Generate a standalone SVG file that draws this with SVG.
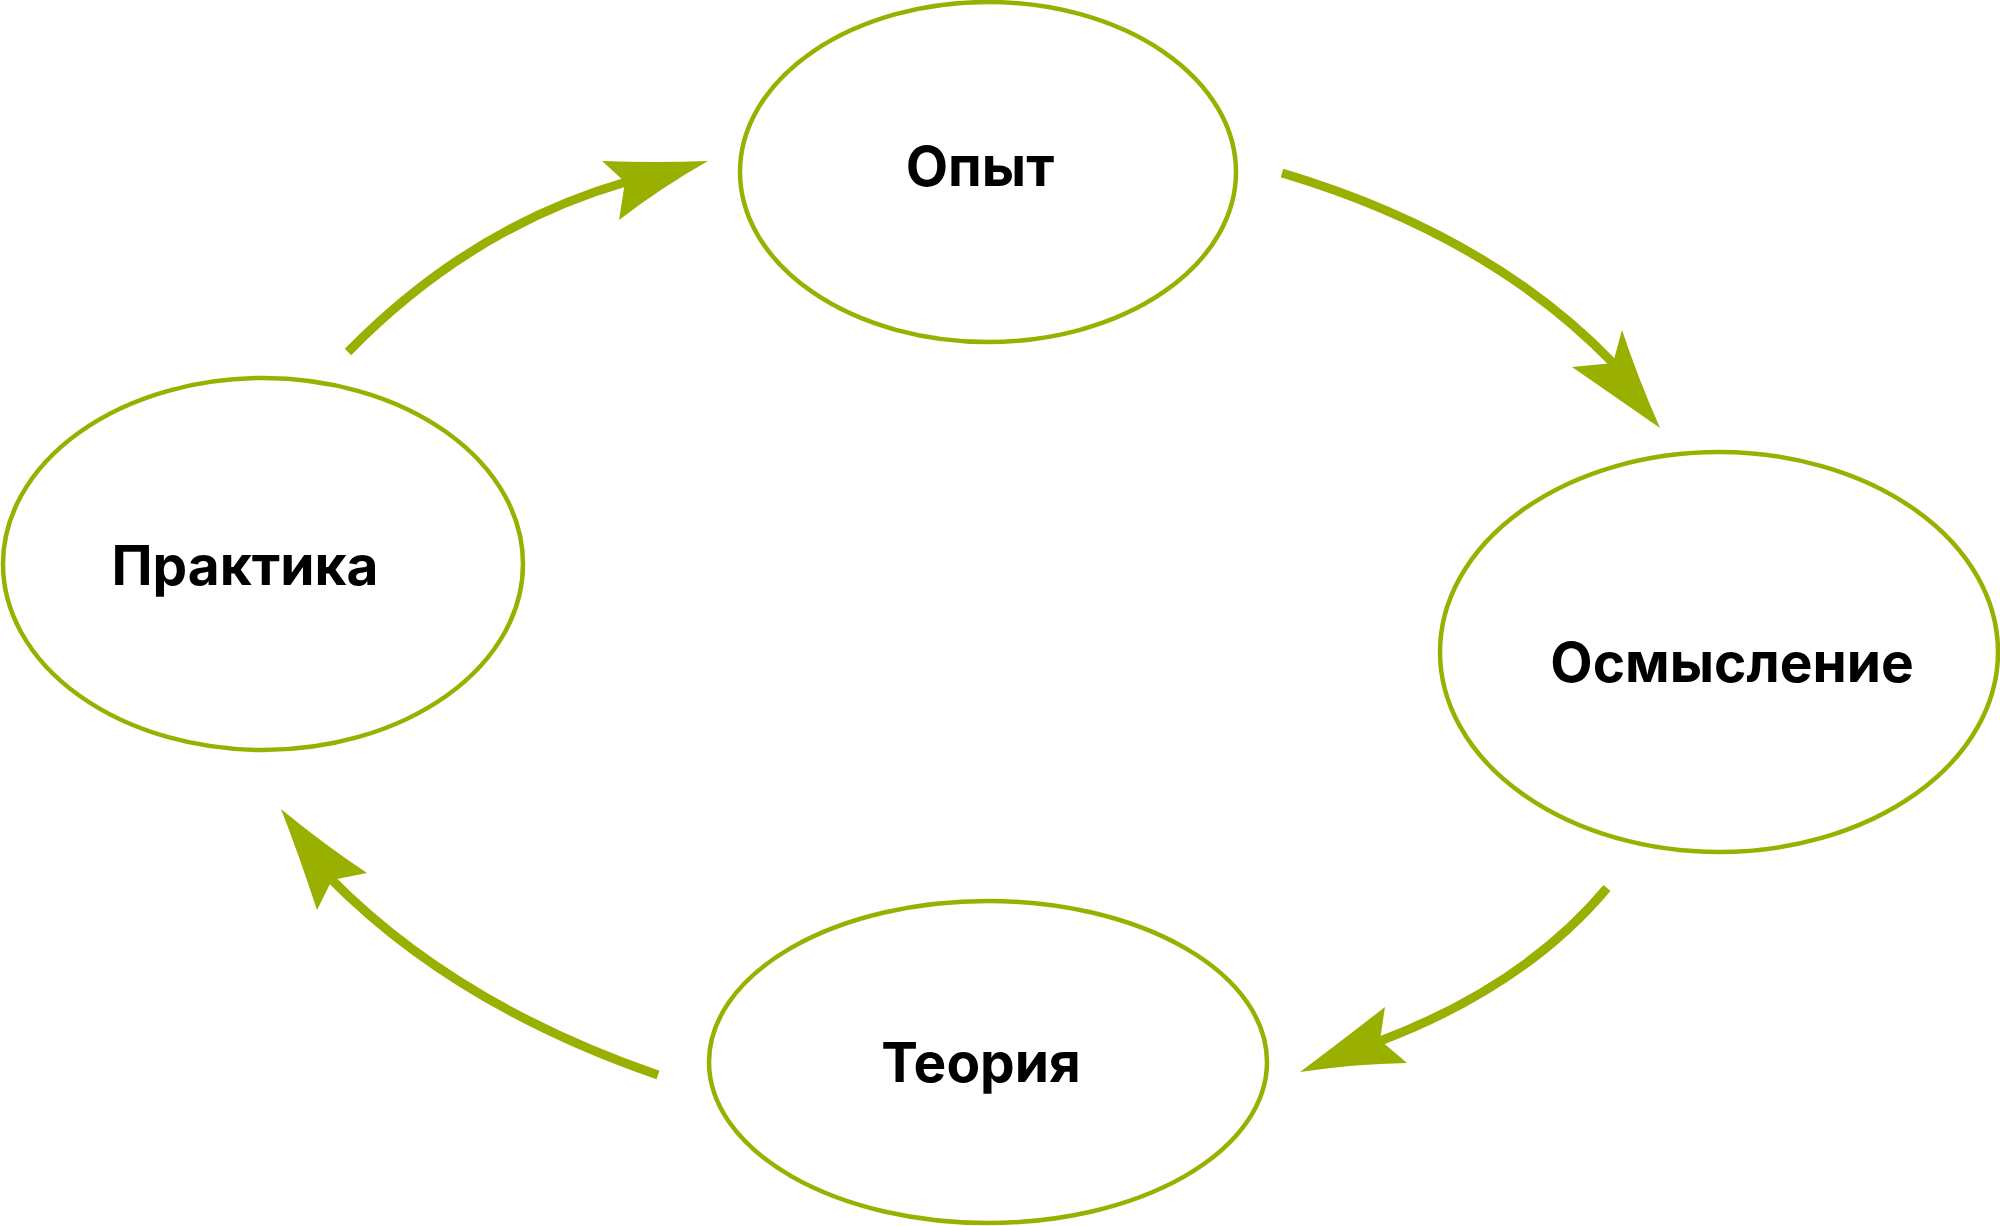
<svg xmlns="http://www.w3.org/2000/svg" width="2000" height="1226" viewBox="0 0 2000 1226">
<style>
.node ellipse{fill:#ffffff;stroke:#99b000;stroke-width:4.5}
.node text{font-family:Inter,"Noto Sans","Liberation Sans",sans-serif;font-weight:700;font-size:55px;fill:#000;text-anchor:middle}
.edge{fill:none;stroke:#99b000;stroke-width:9}
.head{fill:#99b000;stroke:none}
</style>
<rect width="2000" height="1226" fill="#ffffff"/>
<g id="connectors">
<g id="e1">
<path class="edge" d="M348,352 Q470,227 626,182"/>
<path class="head" d="M602,161 Q655,163 708,161 Q662,187 619,220 L625,182 Z"/>
</g>
<g id="e2">
<path class="edge" d="M1282,173 Q1490,235 1614,364"/>
<path class="head" d="M1622,330 Q1638,378 1660,428 Q1614,396 1572,367 L1613,363 Z"/>
</g>
<g id="e3">
<path class="edge" d="M1607,888 Q1525,986 1380,1041"/>
<path class="head" d="M1385,1007 Q1340,1042 1300,1072 Q1352,1064 1407,1063 L1380,1040 Z"/>
</g>
<g id="e4">
<path class="edge" d="M658,1075 Q455,1005 330,878"/>
<path class="head" d="M367,873 Q322,843 281,809 Q300,858 317,910 L332,880 Z"/>
</g>
</g>
<g id="node-opyt" class="node">
<ellipse cx="988" cy="172" rx="248" ry="170"/>
<text x="980" y="186">Опыт</text>
</g>
<g id="node-osmyslenie" class="node">
<ellipse cx="1719" cy="652" rx="279" ry="200"/>
<text x="1732" y="682">Осмысление</text>
</g>
<g id="node-teoriya" class="node">
<ellipse cx="988" cy="1062" rx="279" ry="161"/>
<text x="981" y="1082">Теория</text>
</g>
<g id="node-praktika" class="node">
<ellipse cx="263" cy="564" rx="260" ry="186"/>
<text x="245" y="585">Практика</text>
</g>
</svg>
